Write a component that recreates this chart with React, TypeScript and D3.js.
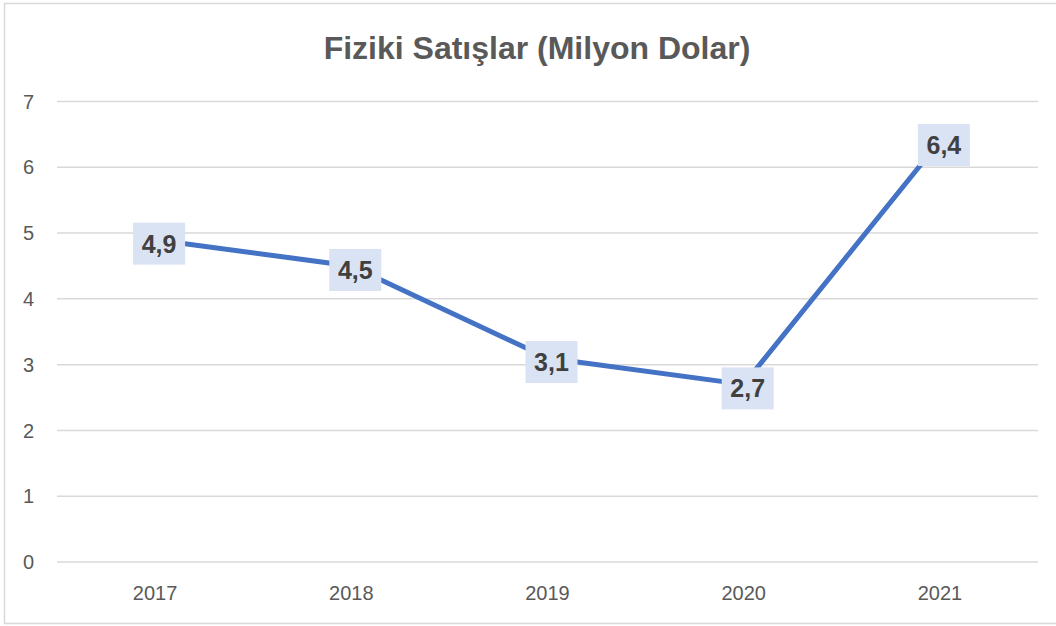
import React from "react";
import * as d3 from "d3";

const categories = ["2017", "2018", "2019", "2020", "2021"];
const values = [4.9, 4.5, 3.1, 2.7, 6.4];
const yTicks = [0, 1, 2, 3, 4, 5, 6, 7];
const title = "Fiziki Satışlar (Milyon Dolar)";

const W = 1056;
const H = 626;
const plot = { left: 57, right: 1038, top: 101.5, bottom: 562 };

export default function App() {
  const x = d3.scaleBand<string>().domain(categories).range([plot.left, plot.right]).padding(0);
  const y = d3.scaleLinear().domain([0, 7]).range([plot.bottom, plot.top]);
  const cx = (c: string) => (x(c) as number) + x.bandwidth() / 2;
  const line = d3
    .line<number>()
    .x((_, i) => cx(categories[i]))
    .y((d) => y(d));
  const font = "'Liberation Sans', Arial, sans-serif";
  const fmt = (v: number) => v.toFixed(1).replace(".", ",");
  const boxW = 52;
  const boxH = 42;

  return (
    <svg
      width={W}
      height={H}
      style={{ position: "absolute", left: 0, top: 0, background: "#fff" }}
      fontFamily={font}
    >
      <rect x={4.5} y={3.5} width={1060} height={620} fill="#fff" stroke="#d9d9d9" strokeWidth={1.5} />
      <text x={537} y={59} textAnchor="middle" fontSize={32} fontWeight="bold" fill="#595959">
        {title}
      </text>
      {yTicks.map((t) => (
        <g key={t}>
          <line x1={plot.left} x2={plot.right} y1={y(t)} y2={y(t)} stroke="#d9d9d9" strokeWidth={1.5} />
          <text x={34} y={y(t)} dy="0.36em" textAnchor="end" fontSize={20} fill="#595959">
            {t}
          </text>
        </g>
      ))}
      {categories.map((c) => (
        <text key={c} x={cx(c)} y={600} textAnchor="middle" fontSize={20} fill="#595959">
          {c}
        </text>
      ))}
      <path d={line(values) || ""} fill="none" stroke="#4472c4" strokeWidth={5} strokeLinejoin="round" strokeLinecap="round" />
      {values.map((v, i) => {
        const px = cx(categories[i]) + 4;
        const py = y(v) + 4;
        return (
          <g key={i}>
            <rect x={px - boxW / 2} y={py - boxH / 2} width={boxW} height={boxH} fill="#dae3f3" />
            <text x={px} y={py} dy="0.36em" textAnchor="middle" fontSize={25} fontWeight="bold" fill="#404040">
              {fmt(v)}
            </text>
          </g>
        );
      })}
    </svg>
  );
}
